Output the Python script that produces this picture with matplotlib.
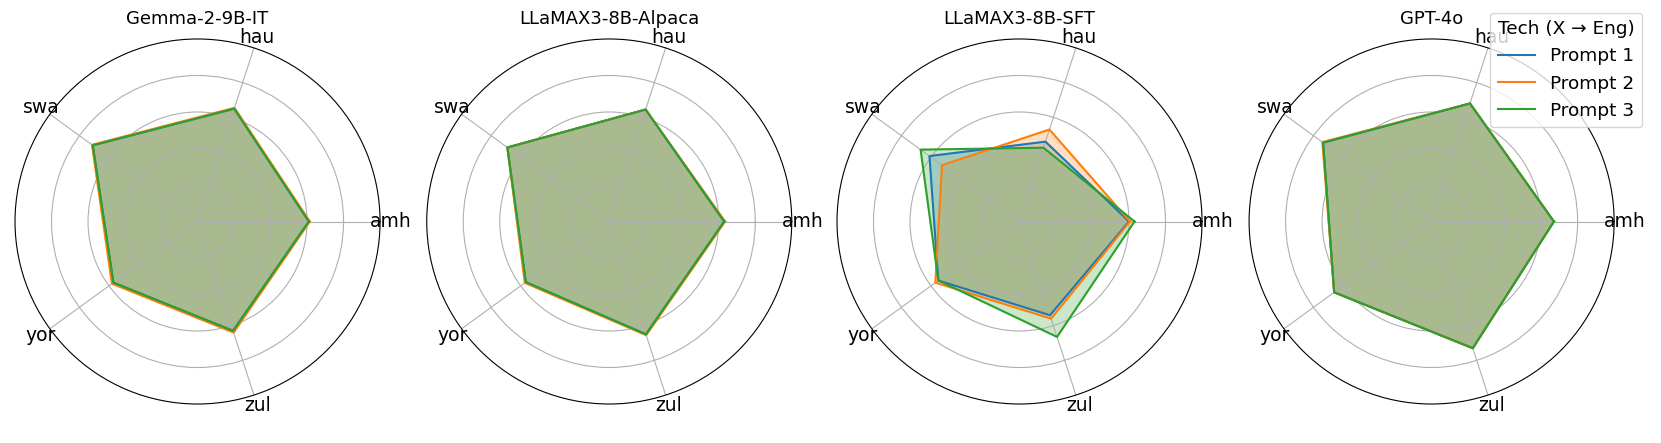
import numpy as np
import matplotlib.pyplot as plt

# ---- data (scores per language)
languages = ['amh', 'hau', 'swa', 'yor', 'zul']
models = ['Gemma-2-9B-IT', 'LLaMAX3-8B-Alpaca', 'LLaMAX3-8B-SFT', 'GPT-4o']
prompts = ['Prompt 1', 'Prompt 2', 'Prompt 3']

gemma_p1 = [0.61, 0.65, 0.71, 0.57, 0.63]
gemma_p2 = [0.615, 0.655, 0.715, 0.58, 0.64]
gemma_p3 = [0.61, 0.65, 0.71, 0.57, 0.63]

alpaca_p1 = [0.63, 0.645, 0.69, 0.565, 0.65]
alpaca_p2 = [0.635, 0.645, 0.69, 0.572, 0.655]
alpaca_p3 = [0.63, 0.645, 0.69, 0.565, 0.65]

sft_p1 = [0.60, 0.46, 0.61, 0.55, 0.54]
sft_p2 = [0.605, 0.53, 0.525, 0.57, 0.56]
sft_p3 = [0.63, 0.425, 0.67, 0.55, 0.665]

gpt_p1 = [0.67, 0.68, 0.735, 0.66, 0.73]
gpt_p2 = [0.67, 0.68, 0.74, 0.66, 0.73]
gpt_p3 = [0.67, 0.68, 0.735, 0.66, 0.73]

scores = [
    [gemma_p1, gemma_p2, gemma_p3],
    [alpaca_p1, alpaca_p2, alpaca_p3],
    [sft_p1, sft_p2, sft_p3],
    [gpt_p1, gpt_p2, gpt_p3],
]
colors = ['tab:blue', 'tab:orange', 'tab:green']

angles = np.linspace(0, 2 * np.pi, len(languages), endpoint=False)
closed = np.concatenate([angles, angles[:1]])

fig = plt.figure(figsize=(16.61, 4.43), dpi=100)
lefts = [0.00903, 0.2569, 0.5039, 0.752]

for i, model in enumerate(models):
    ax = fig.add_axes([lefts[i], 0.088, 0.2198, 0.824], projection='polar')
    for j, vals in enumerate(scores[i]):
        v = np.concatenate([vals, vals[:1]])
        ax.plot(closed, v, color=colors[j], linewidth=1.5, label=prompts[j])
        ax.fill(closed, v, color=colors[j], alpha=0.25)
    ax.set_ylim(0, 1)
    ax.set_yticks([0.2, 0.4, 0.6, 0.8])
    ax.set_yticklabels([])
    ax.set_xticks(angles)
    ax.set_xticklabels([])
    # centred language labels just outside the rim
    for ang, lab in zip(angles, languages):
        ax.text(ang, 1.06, lab, ha='center', va='center', fontsize=13.5, clip_on=False)
    ax.set_title(model, fontsize=13, pad=11)
    ax.spines['polar'].set_linewidth(0.8)

ax.legend(title='Tech (X \u2192 Eng)', loc='upper right', fontsize=13.3, title_fontsize=13.3,
          bbox_to_anchor=(0.9884, 0.9713), bbox_transform=fig.transFigure, borderaxespad=0)

plt.savefig('out.png', dpi=100)
